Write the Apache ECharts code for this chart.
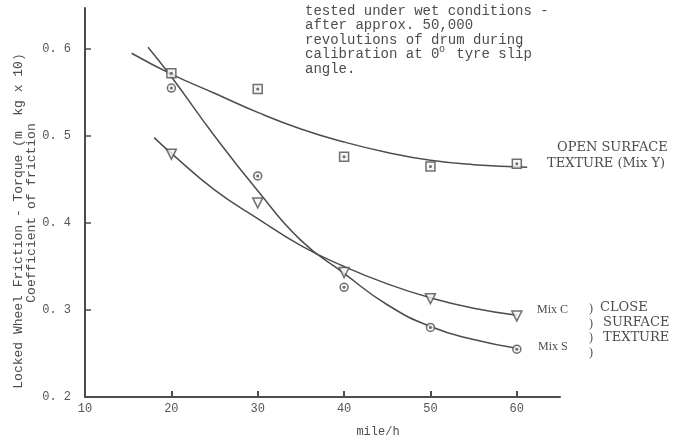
<!DOCTYPE html>
<html><head><meta charset="utf-8">
<script src="https://cdn.jsdelivr.net/npm/echarts@6/dist/echarts.min.js"></script>
<style>html,body{margin:0;padding:0;background:#fff}#c{width:696px;height:443px}</style>
</head><body><div id="c"></div>
<script>
// measured points (mile/h vs coefficient of friction)
const speeds = [20, 30, 40, 50, 60];
const mixY = [0.572, 0.554, 0.476, 0.465, 0.468];
const mixS = [0.555, 0.454, 0.326, 0.280, 0.255];
const mixC = [0.479, 0.423, 0.343, 0.313, 0.293];
// hand-drawn fitted curves
const curveYx = [15.4, 20, 25, 30, 35, 40, 45, 50, 55, 61.2];
const curveYy = [0.595, 0.571, 0.549, 0.527, 0.508, 0.493, 0.481, 0.472, 0.467, 0.464];
const curveSx = [17.3, 20, 25, 30, 35, 40, 45, 50, 55, 60];
const curveSy = [0.602, 0.568, 0.500, 0.437, 0.380, 0.342, 0.306, 0.281, 0.266, 0.256];
const curveCx = [18.0, 20, 25, 30, 35, 40, 45, 50, 55, 60];
const curveCy = [0.498, 0.480, 0.438, 0.405, 0.374, 0.350, 0.330, 0.314, 0.302, 0.294];
const xTicks = [10, 20, 30, 40, 50, 60];
const yTicks = [0.2, 0.3, 0.4, 0.5, 0.6];

const ink = '#4d4d4d';
const mono = '"Liberation Mono", "DejaVu Sans Mono", monospace';
const serif = '"Liberation Serif", "DejaVu Serif", serif';
const wserif = '"DejaVu Serif", "Liberation Serif", serif';
const zip = (xs, ys) => xs.map((x, i) => [x, ys[i]]);

const chart = echarts.init(document.getElementById('c'));
const curve = (xs, ys) => ({
  type: 'line', data: zip(xs, ys), smooth: 0.5, showSymbol: false, symbol: 'none',
  lineStyle: { color: ink, width: 1.5 }, z: 2, silent: true
});
const pts = (ys, symbol, size, rotate) => ({
  type: 'scatter', data: zip(speeds, ys), symbol, symbolSize: size, symbolRotate: rotate || 0,
  itemStyle: { color: '#f2f2f2', borderColor: ink, borderWidth: 1.5 }, z: 3, silent: true
});
const dots = (ys) => ({
  type: 'scatter', data: zip(speeds, ys), symbol: 'circle', symbolSize: 3,
  itemStyle: { color: ink }, z: 4, silent: true
});
const txt = (x, y, text, font, size, extra) => ({
  type: 'text', x, y, silent: true,
  style: Object.assign({ text, font: size + 'px ' + font, fill: ink }, extra || {})
});

chart.setOption({
  animation: false,
  grid: { left: 85, right: 136, top: 8, bottom: 46 },
  xAxis: {
    type: 'value', min: 10, max: 65, interval: 10,
    axisLine: { lineStyle: { color: ink, width: 2 } },
    axisTick: { inside: true, length: 6, lineStyle: { color: ink, width: 2 } },
    splitLine: { show: false },
    axisLabel: { color: '#555', fontFamily: mono, fontSize: 12, margin: 6, showMaxLabel: false,
      formatter: v => xTicks.includes(v) ? String(v) : '' }
  },
  yAxis: {
    type: 'value', min: 0.2, max: 0.647, interval: 0.1,
    axisLine: { lineStyle: { color: ink, width: 2 } },
    axisTick: { inside: true, length: 6, lineStyle: { color: ink, width: 1.5 } },
    splitLine: { show: false },
    axisLabel: { color: '#555', fontFamily: mono, fontSize: 12, margin: 14, showMaxLabel: false,
      formatter: v => yTicks.some(t => Math.abs(t - v) < 1e-6) ? v.toFixed(1).replace('.', '. ') : '' }
  },
  series: [
    curve(curveYx, curveYy), curve(curveSx, curveSy), curve(curveCx, curveCy),
    pts(mixY, 'rect', 9), pts(mixS, 'circle', 8), pts(mixC, 'triangle', 10, 180),
    dots(mixY), dots(mixS)
  ],
  graphic: [
    txt(305, 4, 'tested under wet conditions -\nafter approx. 50,000\nrevolutions of drum during', mono, 14, { lineHeight: 14.5 }),
    txt(305, 47.5, 'calibration at 0  tyre slip\nangle.', mono, 14, { lineHeight: 14.5 }),
    txt(439, 44, 'o', mono, 10),
    txt(557, 141, 'OPEN SURFACE', wserif, 13),
    txt(547, 157, 'TEXTURE (Mix Y)', wserif, 13),
    txt(537, 304, 'Mix C', serif, 12),
    txt(538, 341, 'Mix S', serif, 12),
    txt(589, 302, ')\n)\n)\n)', serif, 12, { lineHeight: 14.5 }),
    txt(600, 301, 'CLOSE', wserif, 13),
    txt(603, 316, 'SURFACE', wserif, 13),
    txt(603, 331, 'TEXTURE', wserif, 13),
    txt(378, 432, 'mile/h', mono, 12, { align: 'center', verticalAlign: 'middle' }),
    { type: 'text', x: 19, y: 221, rotation: Math.PI / 2, silent: true,
      style: { text: 'Locked Wheel Friction - Torque (m  kg x 10)', font: '13px ' + mono, fill: ink, align: 'center', verticalAlign: 'middle' } },
    { type: 'text', x: 32, y: 213, rotation: Math.PI / 2, silent: true,
      style: { text: 'Coefficient of friction', font: '13px ' + mono, fill: ink, align: 'center', verticalAlign: 'middle' } }
  ]
});
</script></body></html>
